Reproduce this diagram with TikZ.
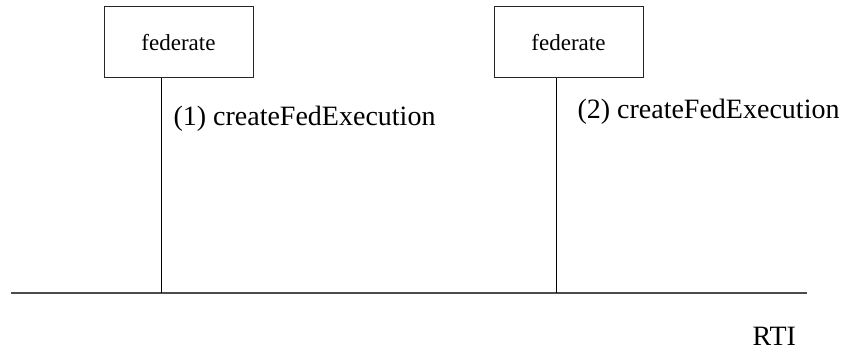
\documentclass[tikz,border=0pt]{standalone}
\usepackage{fontspec}
\setmainfont{Liberation Serif}
\usepackage{tikz}
\usetikzlibrary{positioning, calc}

\begin{document}
\begin{tikzpicture}[x=1pt, y=1pt, line width=1pt]
	\tikzset{fedbox/.style={draw=black!85, rectangle, minimum width=149pt, minimum height=71pt, inner sep=0pt, font=\fontsize{23}{26}\selectfont}}
	\tikzset{call/.style={anchor=base west, inner sep=0pt, font=\fontsize{28}{32}\selectfont}}
	\tikzset{bus/.style={draw=black!70, line width=1.6pt}}
	\useasboundingbox (0,0) rectangle (842,354);

	% federates on top
	\node (fedA) [fedbox] at (178.5, 311.5) {federate};
	\node (fedB) [fedbox] at (568.5, 311.5) {federate};

	% RTI bus
	\coordinate (busL) at (11, 61);
	\coordinate (busR) at (807, 61);
	\coordinate (joinA) at (161.5, 61);
	\coordinate (joinB) at (556, 61);
	\draw [bus] (busL) -- (busR);
	\node (rti) [call] at (752, 9) {RTI};

	\draw (fedA.south -| joinA) -- (joinA);
	\draw (fedB.south -| joinB) -- (joinB);
	\node (callA) [call] at (173, 229) {(1) createFedExecution};
	\node (callB) [call] at (577, 236) {(2) createFedExecution};
\end{tikzpicture}
\end{document}
